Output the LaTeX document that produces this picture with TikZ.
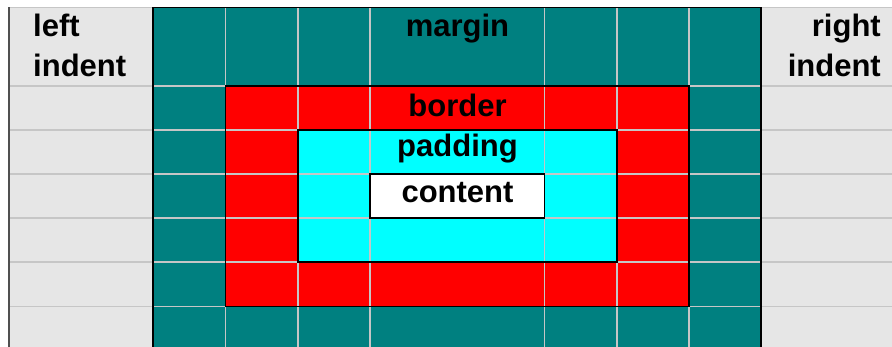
\documentclass[tikz,border=0pt]{standalone}
\usepackage{fontspec}
\setmainfont{Liberation Sans}
\definecolor{bggray}{HTML}{E6E6E6}
\definecolor{gridgray}{HTML}{C6C6C6}
\definecolor{marginteal}{HTML}{008080}
\definecolor{borderred}{HTML}{FF0000}
\definecolor{padcyan}{HTML}{00FFFF}
\definecolor{edgegray}{HTML}{505050}
\tikzset{
  lbl/.style={inner sep=0pt, font=\bfseries\fontsize{31}{38}\selectfont, text=black},
  gridline/.style={draw=gridgray, line width=1.6pt},
  boxedge/.style={draw=black, line width=1.6pt},
}
\begin{document}
\begin{tikzpicture}[x=1pt,y=-1pt]
\useasboundingbox (0,0) rectangle (892,347);
% background
\fill[white] (0,0) rectangle (892,347);
\fill[bggray] (9,7.5) rectangle (892,347);
% areas
\fill[marginteal] (153,7.5) rectangle (761,350);
\fill[borderred] (225.5,86) rectangle (689,306.5);
\fill[padcyan] (298,130) rectangle (617,262);
\fill[white] (370,174) rectangle (544.5,218);
% grid
\foreach \yy in {7.5,86,130,174,218,262,306.5}
  \draw[gridline] (9,\yy) -- (892,\yy);
\foreach \xx in {225.5,298,370,544.5,617,689}
  \draw[gridline] (\xx,7.5) -- (\xx,350);
% edges
\draw[draw=edgegray, line width=2pt] (9,7.5) -- (9,350);
\draw[boxedge] (153,350) -- (153,7.5) -- (761,7.5) -- (761,350);
\draw[boxedge] (225.5,86) rectangle (689,306.5);
\draw[boxedge] (298,130) rectangle (617,262);
\draw[boxedge] (370,174) rectangle (544.5,218);
% labels
\node[lbl, anchor=base west] (left1) at (33,37) {left};
\node[lbl, anchor=base west] (left2) at (33,77) {indent};
\node[lbl, anchor=base east] (right1) at (881,37) {right};
\node[lbl, anchor=base east] (right2) at (881,77) {indent};
\node[lbl, anchor=base] (margin) at (457.5,37) {margin};
\node[lbl, anchor=base] (border) at (457.5,116.5) {border};
\node[lbl, anchor=base] (padding) at (457.5,157) {padding};
\node[lbl, anchor=base] (content) at (457.5,203) {content};
\end{tikzpicture}
\end{document}
